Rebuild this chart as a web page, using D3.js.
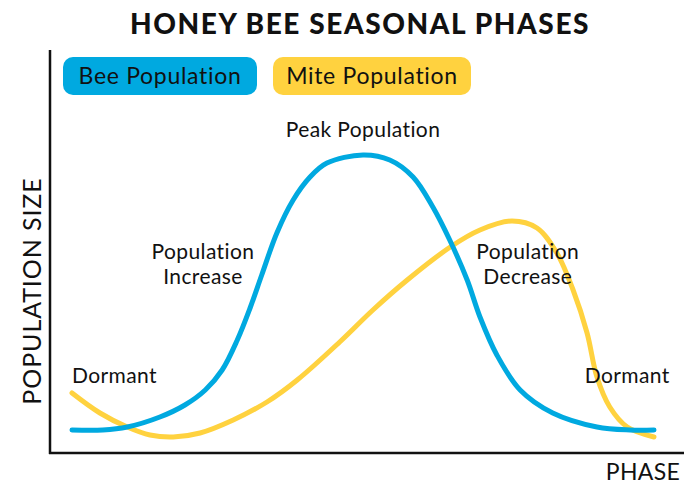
<!DOCTYPE html>
<html>
<head>
<meta charset="utf-8">
<script src="https://cdn.jsdelivr.net/npm/d3@7"></script>
<style>
  body { margin: 0; background: #fff; }
  svg text { font-family: Lato, "Open Sans", sans-serif; fill: #111; }
</style>
</head>
<body>
<div id="chart"></div>
<script>
// data: phase (0-100) and relative population size (0-100)
const phase = [0, 5.3, 9.5, 15.1, 19.4, 22.9, 25.8, 28.4, 30.6, 32.6, 35.2, 38.0, 40.9, 43.8, 50.0, 54.6, 58.6, 62.0, 64.9, 67.9, 70.1, 73.0, 77.0, 82.6, 90.2, 95.9, 100];
const beeValues = [5.75, 5.75, 6.5, 9, 12, 15.75, 20.75, 28.25, 36.25, 44.5, 55, 63.25, 69, 72.5, 74.5, 73.25, 69, 61.5, 53.25, 43.25, 34, 24.5, 15.75, 10, 6.5, 5.75, 5.75];

const mitePhase = [0, 4.8, 9.5, 13.4, 17.4, 22.0, 27.7, 33.5, 38.7, 46.0, 51.7, 57.6, 65.0, 70.1, 75.6, 79.9, 83.3, 86.1, 88.5, 90.2, 92.4, 95.4, 100];
const miteValues = [15, 10, 6.5, 4.5, 4, 5, 8.25, 12.75, 18.25, 27.75, 35.75, 43.25, 51.5, 55.75, 58, 56.25, 50, 40.75, 30, 19, 11.5, 6.5, 4];

const seriesNames = ["Bee Population", "Mite Population"];
const seriesColors = ["#00a9e0", "#ffd23f"];

// phase annotations: [text lines, phase, value, anchor]
const annotations = [
  [["Peak Population"], 50, 79, "middle"],
  [["Population", "Increase"], 22.5, 48.5, "middle"],
  [["Population", "Decrease"], 78.3, 48.5, "middle"],
  [["Dormant"], 0, 17.5, "start"],
  [["Dormant"], 88.1, 17.5, "start"]
];

const width = 694, height = 482;
const svg = d3.select("#chart").append("svg")
  .attr("width", width)
  .attr("height", height);

const x = d3.scaleLinear().domain([0, 100]).range([72, 654]);
const y = d3.scaleLinear().domain([0, 100]).range([453, 53]);

// title
svg.append("text")
  .attr("x", 360).attr("y", 34)
  .attr("text-anchor", "middle")
  .style("font-weight", "900")
  .style("font-size", "28px")
  .style("letter-spacing", "1.6px")
  .text("HONEY BEE SEASONAL PHASES");

// axes frame (no ticks)
svg.append("line")
  .attr("x1", 50).attr("x2", 50).attr("y1", 50).attr("y2", 454)
  .attr("stroke", "#111").attr("stroke-width", 2.5);
svg.append("line")
  .attr("x1", 49).attr("x2", 684).attr("y1", 453).attr("y2", 453)
  .attr("stroke", "#111").attr("stroke-width", 2.5);

svg.append("text")
  .attr("transform", "translate(41,291) rotate(-90)")
  .attr("text-anchor", "middle")
  .style("font-size", "25px")
  .style("letter-spacing", "0.9px")
  .text("POPULATION SIZE");

svg.append("text")
  .attr("x", 680).attr("y", 480)
  .attr("text-anchor", "end")
  .style("font-size", "23px")
  .style("letter-spacing", "0.3px")
  .text("PHASE");

// legend pills
const legend = svg.append("g");
const pillX = [63, 273], pillW = [194, 198];
seriesNames.forEach((name, i) => {
  legend.append("rect")
    .attr("x", pillX[i]).attr("y", 57)
    .attr("width", pillW[i]).attr("height", 38)
    .attr("rx", 10)
    .attr("fill", seriesColors[i]);
  legend.append("text")
    .attr("x", pillX[i] + pillW[i] / 2).attr("y", 84)
    .attr("text-anchor", "middle")
    .style("font-size", "23px")
    .style("letter-spacing", "0.7px")
    .text(name);
});

// curves
const line = d3.line()
  .x(d => x(d[0]))
  .y(d => y(d[1]))
  .curve(d3.curveCatmullRom.alpha(0.5));

const mite = mitePhase.map((p, i) => [p, miteValues[i]]);
const bee = phase.map((p, i) => [p, beeValues[i]]);

svg.append("path")
  .datum(mite)
  .attr("d", line)
  .attr("fill", "none")
  .attr("stroke", seriesColors[1])
  .attr("stroke-width", 5)
  .attr("stroke-linecap", "round");

svg.append("path")
  .datum(bee)
  .attr("d", line)
  .attr("fill", "none")
  .attr("stroke", seriesColors[0])
  .attr("stroke-width", 5)
  .attr("stroke-linecap", "round");

// annotations
annotations.forEach(a => {
  const t = svg.append("text")
    .attr("text-anchor", a[3])
    .style("font-size", "21px")
    .style("letter-spacing", "0.4px");
  a[0].forEach((s, k) => {
    t.append("tspan")
      .attr("x", x(a[1]))
      .attr("y", y(a[2]) + k * 25)
      .text(s);
  });
});
</script>
</body>
</html>
